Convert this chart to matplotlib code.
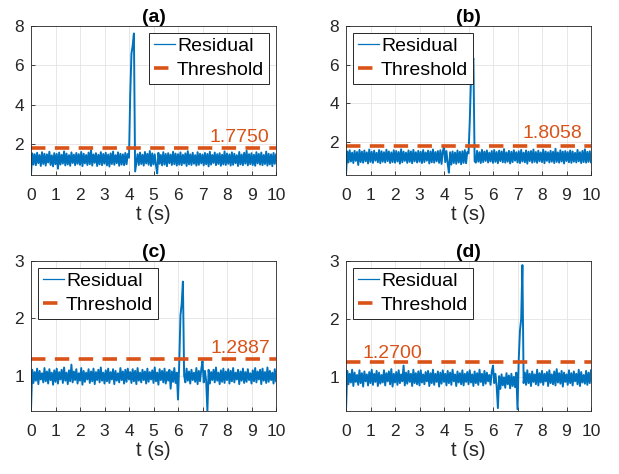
import numpy as np
import matplotlib
matplotlib.use("Agg")
import matplotlib.pyplot as plt

plt.rcParams['font.family'] = ['Liberation Sans', 'DejaVu Sans']

t = np.linspace(0, 10, 201)

res_a = [
    0.45, 1.52, 0.95, 1.48, 0.92, 1.55, 1.02, 1.44, 0.88, 1.58, 0.98, 1.50, 0.90, 1.47, 1.05, 1.60, 0.93, 1.42, 0.86, 1.53,
    0.97, 1.49, 0.74, 1.56, 0.95, 1.45, 1.00, 1.62, 0.91, 1.51, 0.96, 1.43, 0.89, 1.57, 1.03, 1.46, 0.92, 1.54, 0.99, 1.48,
    0.94, 1.59, 0.87, 1.50, 1.01, 1.44, 0.93, 1.56, 0.97, 1.68, 0.90, 1.47, 1.04, 1.53, 0.88, 1.45, 0.96, 1.58, 0.92, 1.49,
    1.00, 1.55, 0.91, 1.46, 0.85, 1.52, 0.98, 1.61, 0.94, 1.43, 1.02, 1.57, 0.89, 1.50, 0.95, 1.47, 0.92, 1.54, 0.97, 1.49,
    1.30, 4.50, 6.60, 7.00, 7.62, 0.60, 1.05, 1.48, 0.93, 1.56, 0.98, 1.45, 0.90, 1.59, 1.01, 1.50, 0.94, 1.64, 0.88, 1.52,
    0.96, 1.47, 0.92, 0.50, 1.55, 0.99, 1.44, 0.91, 1.58, 0.95, 1.49, 0.87, 1.53, 1.02, 1.46, 0.93, 1.60, 0.97, 1.51, 0.90,
    1.48, 0.95, 1.57, 0.92, 1.45, 1.00, 1.52, 0.88, 1.63, 0.96, 1.47, 0.93, 1.55, 0.99, 1.43, 0.90, 1.58, 0.94, 1.50, 1.01,
    1.46, 0.91, 1.54, 0.97, 1.49, 0.86, 1.60, 0.95, 1.44, 1.03, 1.56, 0.92, 1.48, 0.98, 1.53, 0.89, 1.45, 0.96, 1.62, 0.93,
    1.51, 0.99, 1.47, 0.90, 1.57, 0.94, 1.50, 1.02, 1.43, 0.88, 1.59, 0.96, 1.46, 0.92, 1.55, 1.00, 1.65, 0.91, 1.48, 0.97,
    1.53, 0.93, 1.45, 0.89, 1.58, 1.01, 1.49, 0.95, 1.56, 0.92, 1.44, 0.98, 1.61, 0.90, 1.50, 0.96, 1.47, 0.87, 1.54, 0.99,
    1.46,
]

res_b = [
    0.30, 1.50, 0.93, 1.56, 0.98, 1.44, 0.90, 1.53, 1.01, 1.47, 0.80, 1.58, 0.95, 1.49, 0.92, 1.55, 0.99, 1.45, 0.88, 1.60,
    0.96, 1.48, 0.91, 1.54, 1.02, 1.43, 0.94, 1.57, 0.89, 1.51, 0.97, 1.46, 0.93, 1.59, 1.00, 1.50, 0.90, 1.45, 0.95, 1.56,
    0.92, 1.52, 0.98, 1.47, 0.87, 1.61, 0.94, 1.49, 1.01, 1.44, 0.91, 1.55, 0.96, 1.50, 0.89, 1.58, 0.99, 1.46, 0.93, 1.53,
    0.97, 1.48, 0.90, 1.57, 0.95, 1.45, 1.02, 1.54, 0.88, 1.50, 0.94, 1.60, 0.92, 1.47, 0.99, 1.52, 0.91, 1.56, 0.85, 1.49,
    1.75, 0.95, 1.52, 0.88, 0.40, 1.46, 0.82, 1.50, 0.90, 1.44, 0.86, 1.55, 0.93, 1.48, 0.84, 1.51, 0.91, 1.57, 0.89, 1.47,
    1.40, 3.00, 5.20, 6.00, 6.32, 1.00, 0.92, 1.53, 0.97, 1.46, 0.90, 1.58, 0.95, 1.49, 1.01, 1.55, 0.93, 1.44, 0.98, 1.52,
    0.91, 1.57, 0.96, 1.47, 0.89, 1.54, 1.00, 1.50, 0.94, 1.62, 0.92, 1.45, 0.97, 1.53, 0.88, 1.48, 0.95, 1.56, 1.02, 1.46,
    0.93, 1.51, 0.90, 1.58, 0.98, 1.44, 0.94, 1.55, 0.87, 1.49, 1.00, 1.52, 0.92, 1.60, 0.96, 1.47, 0.91, 1.54, 0.99, 1.45,
    0.95, 1.59, 0.89, 1.50, 1.01, 1.46, 0.93, 1.53, 0.97, 1.48, 0.90, 1.64, 0.96, 1.45, 0.92, 1.56, 0.98, 1.49, 0.88, 1.52,
    1.00, 1.47, 0.94, 1.55, 0.91, 1.50, 0.97, 1.43, 0.93, 1.58, 0.99, 1.46, 0.90, 1.53, 0.95, 1.61, 0.92, 1.48, 0.96, 1.51,
    0.94,
]

res_c = [
    0.40, 1.10, 0.87, 1.06, 0.91, 1.12, 0.85, 1.08, 0.93, 1.04, 0.88, 1.13, 0.90, 1.07, 0.86, 1.11, 0.92, 1.05, 0.84, 1.09,
    0.89, 1.12, 0.86, 1.06, 0.93, 1.10, 0.87, 1.14, 0.91, 1.05, 0.85, 1.09, 0.90, 1.19, 0.88, 1.07, 0.92, 1.11, 0.86, 1.04,
    0.91, 1.13, 0.84, 1.08, 0.89, 1.05, 0.93, 1.11, 0.87, 1.07, 0.90, 1.12, 0.85, 1.06, 0.92, 1.10, 0.88, 1.14, 0.91, 1.05,
    0.86, 1.09, 0.90, 1.12, 0.87, 1.06, 0.93, 1.11, 0.85, 1.08, 0.91, 1.04, 0.88, 1.13, 0.92, 1.07, 0.86, 1.10, 0.89, 1.12,
    0.93, 1.06, 0.87, 1.11, 0.90, 1.08, 0.85, 1.13, 0.91, 1.05, 0.88, 1.10, 0.92, 1.07, 0.86, 1.12, 0.89, 1.06, 0.93, 1.09,
    0.87, 1.14, 0.90, 1.05, 0.84, 1.11, 0.92, 1.08, 0.88, 1.12, 0.86, 1.06, 0.91, 1.10, 0.77, 1.07, 0.89, 1.13, 0.87, 1.05,
    0.58, 1.20, 2.05, 2.25, 2.64, 1.00, 0.88, 1.12, 0.91, 1.07, 0.86, 1.10, 0.92, 1.05, 0.89, 1.13, 0.85, 1.08, 0.90, 1.11,
    1.25, 0.88, 1.08, 0.90, 0.38, 1.10, 0.86, 1.06, 0.92, 1.10, 0.88, 1.14, 0.91, 1.05, 0.85, 1.09, 0.89, 1.12, 0.87, 1.07,
    0.92, 1.11, 0.86, 1.08, 0.90, 1.13, 0.88, 1.05, 0.93, 1.10, 0.85, 1.07, 0.91, 1.12, 0.87, 1.06, 0.89, 1.11, 0.92, 1.04,
    0.86, 1.09, 0.90, 1.13, 0.88, 1.07, 0.93, 1.10, 0.85, 1.12, 0.91, 1.06, 0.87, 1.14, 0.89, 1.08, 0.92, 1.05, 0.86, 1.11,
    0.90,
]

res_d = [
    0.43, 1.11, 0.88, 1.06, 0.91, 1.13, 0.85, 1.08, 0.92, 1.04, 0.87, 1.12, 0.90, 1.07, 0.84, 1.10, 0.93, 1.05, 0.86, 1.09,
    0.90, 1.13, 0.87, 1.06, 0.92, 1.11, 0.85, 1.08, 0.89, 1.04, 0.91, 1.12, 0.86, 1.07, 0.93, 1.10, 0.88, 1.14, 0.84, 1.06,
    0.91, 1.09, 0.87, 1.12, 0.90, 1.05, 0.93, 1.20, 0.86, 1.08, 0.89, 1.11, 0.92, 1.06, 0.85, 1.13, 0.90, 1.07, 0.88, 1.10,
    0.86, 1.12, 0.91, 1.05, 0.88, 1.09, 0.93, 1.11, 0.85, 1.07, 0.90, 1.13, 0.87, 1.06, 0.92, 1.10, 0.84, 1.08, 0.89, 1.12,
    0.92, 1.06, 0.86, 1.11, 0.90, 1.08, 0.87, 1.13, 0.93, 1.05, 0.85, 1.10, 0.91, 1.07, 0.88, 1.12, 0.86, 1.06, 0.92, 1.09,
    0.88, 1.12, 0.91, 1.05, 0.85, 1.10, 0.90, 1.07, 0.87, 1.13, 0.92, 1.06, 0.86, 1.11, 0.89, 1.08, 0.93, 1.04, 0.87, 1.10,
    1.20, 0.90, 1.06, 0.84, 0.47, 1.02, 0.80, 1.05, 0.86, 1.00, 0.82, 1.07, 0.88, 1.03, 0.81, 1.06, 0.85, 1.01, 0.83, 1.08,
    0.45, 1.30, 1.80, 2.00, 2.93, 0.90, 1.08, 0.87, 1.12, 0.90, 1.06, 0.85, 1.10, 0.92, 1.05, 0.88, 1.13, 0.86, 1.07, 0.91,
    1.11, 0.87, 1.06, 0.93, 1.09, 0.85, 1.12, 0.90, 1.05, 0.88, 1.10, 0.86, 1.14, 0.91, 1.07, 0.89, 1.11, 0.84, 1.08, 0.92,
    1.05, 0.87, 1.12, 0.90, 1.07, 0.86, 1.10, 0.93, 1.06, 0.88, 1.13, 0.85, 1.09, 0.91, 1.04, 0.89, 1.11, 0.87, 1.08, 0.90,
    1.12,
]

residuals = [res_a, res_b, res_c, res_d]
thresholds = [1.7750, 1.8058, 1.2887, 1.2700]
titles = ['(a)', '(b)', '(c)', '(d)']
ylims = [(0.42, 8), (0.28, 8), (0.38, 3), (0.42, 3)]
yticks = [[2, 4, 6, 8], [2, 4, 6, 8], [1, 2, 3], [1, 2, 3]]
xticks = list(range(0, 11))
label_pos = [(7.27, 2.12), (7.22, 2.20), (7.33, 1.40), (0.67, 1.34)]
legend_locs = ['upper right', 'upper left', 'upper left', 'upper left']

blue = '#0072BD'
orange = '#D95319'
dark = '#262626'

W, H = 619, 474
fig = plt.figure(figsize=(W / 100, H / 100), dpi=100)
boxes = [(31, 26, 245, 149), (346, 26, 245, 149), (31, 261, 245, 150), (346, 261, 245, 150)]

for i in range(4):
    x0, y0, w, h = boxes[i]
    ax = fig.add_axes([x0 / W, 1 - (y0 + h) / H, w / W, h / H])
    ax.plot(t, residuals[i], color=blue, lw=1.4, label='Residual')
    ax.axhline(thresholds[i], color=orange, lw=2.6, ls=(0, (4.0, 2.6)), label='Threshold')
    lx, ly = label_pos[i]
    ax.text(lx, ly, f'{thresholds[i]:.4f}', color=orange, fontsize=14, ha='left', va='baseline')
    ax.set_xlim(0, 10)
    ax.set_ylim(*ylims[i])
    ax.set_xticks(xticks)
    ax.set_yticks(yticks[i])
    ax.tick_params(direction='in', length=3, width=0.6, colors=dark, labelsize=12.5)
    ax.tick_params(axis='x', pad=9)
    ax.tick_params(axis='y', pad=5)
    ax.grid(True, color='#e3e3e3', lw=0.6)
    ax.set_axisbelow(True)
    for s in ax.spines.values():
        s.set_color(dark)
        s.set_linewidth(0.6)
    ax.set_xlabel('t (s)', fontsize=14.5, color=dark, labelpad=2)
    ax.set_title(titles[i], fontsize=14, fontweight='bold', pad=3)
    handles, labels = ax.get_legend_handles_labels()
    handles[0] = plt.Line2D([], [], color=blue, lw=0.9)
    leg = ax.legend(handles, labels, loc=legend_locs[i], fontsize=14, frameon=True, fancybox=False,
                    edgecolor=dark, framealpha=1, borderpad=0.25, labelspacing=0.3,
                    handlelength=1.1, handletextpad=0.1, borderaxespad=0.35)
    leg.get_frame().set_linewidth(0.7)

fig.savefig('out.png', dpi=100)
